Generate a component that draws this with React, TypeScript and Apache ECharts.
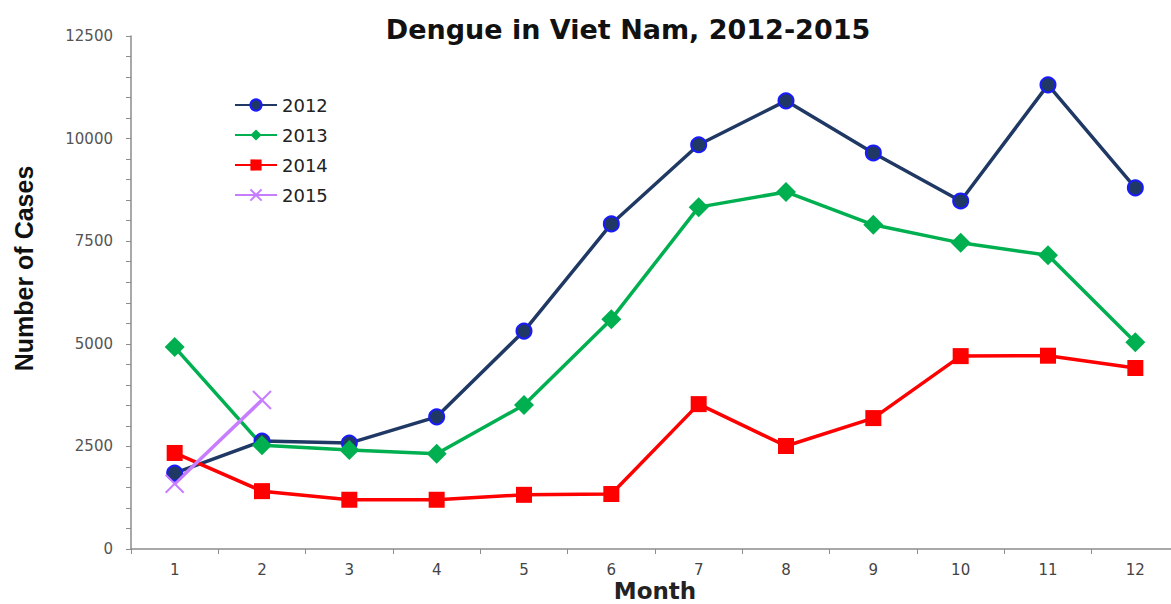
import React, { useEffect, useRef } from "react";
import * as echarts from "echarts";

const months = ["1", "2", "3", "4", "5", "6", "7", "8", "9", "10", "11", "12"];
const cases2012 = [1850, 2630, 2580, 3220, 5310, 7920, 9850, 10920, 9650, 8480, 11310, 8800];
const cases2013 = [4920, 2530, 2410, 2320, 3510, 5600, 8330, 8700, 7900, 7460, 7160, 5040];
const cases2014 = [2340, 1410, 1200, 1200, 1320, 1340, 3530, 2510, 3190, 4700, 4710, 4410];
const cases2015 = [1590, 3630];
const yTicks = { min: 0, max: 12500, interval: 2500 };

export default function App() {
  const ref = useRef<HTMLDivElement>(null);
  useEffect(() => {
    if (!ref.current) return;
    const chart = echarts.init(ref.current, null, { renderer: "svg" });
    const sans = "Liberation Sans, Arial, sans-serif";
    chart.setOption({
      animation: false,
      backgroundColor: "#ffffff",
      title: {
        text: "Dengue in Viet Nam, 2012-2015",
        left: 623,
        textAlign: "center",
        top: 11,
        textStyle: { fontFamily: "DejaVu Sans", fontWeight: "bold", fontSize: 27, color: "#111" },
      },
      legend: {
        orient: "vertical",
        left: 229,
        top: 91,
        itemGap: 12,
        itemWidth: 42,
        itemHeight: 14,
        textStyle: { fontFamily: "DejaVu Sans", fontSize: 18, color: "#222" },
        data: ["2012", "2013", "2014", "2015"],
      },
      grid: { left: 131, top: 36, bottom: 55, width: 1048, outerBoundsMode: "none", containLabel: false },
      xAxis: {
        type: "category",
        data: months,
        boundaryGap: true,
        name: "Month",
        nameLocation: "middle",
        nameGap: 30,
        nameMoveOverlap: false,
        nameTextStyle: { fontFamily: "DejaVu Sans", fontWeight: "bold", fontSize: 23, lineHeight: 23, color: "#222" },
        axisLine: { lineStyle: { color: "#8c8c8c", width: 1.5 } },
        axisTick: { show: true, length: 5, lineStyle: { color: "#8c8c8c" } },
        axisLabel: { fontFamily: "DejaVu Sans", fontSize: 15, lineHeight: 15, color: "#444", margin: 13 },
        splitLine: { show: false },
      },
      yAxis: {
        type: "value",
        min: yTicks.min,
        max: yTicks.max,
        interval: yTicks.interval,
        name: "Number of Cases",
        nameLocation: "middle",
        nameGap: 95,
        nameRotate: 90,
        nameMoveOverlap: false,
        nameTextStyle: { fontFamily: sans, fontWeight: "bold", fontSize: 25, color: "#111", padding: [0, 0, 0, 48] },
        axisLine: { show: true, lineStyle: { color: "#8c8c8c", width: 1.5 } },
        axisTick: { show: true, length: 5, lineStyle: { color: "#8c8c8c" } },
        minorTick: { show: true, splitNumber: 5, length: 5, lineStyle: { color: "#8c8c8c" } },
        axisLabel: {
          fontFamily: "DejaVu Sans",
          fontSize: 15,
          color: "#555",
          margin: 18,
          formatter: (v: number) => String(v),
        },
        splitLine: { show: false },
      },
      series: [
        {
          name: "2012",
          type: "line",
          data: cases2012,
          symbol: "circle",
          symbolSize: 15,
          lineStyle: { color: "#1f3864", width: 3.5 },
          itemStyle: { color: "#1f3864", borderColor: "#1a1aff", borderWidth: 2 },
        },
        {
          name: "2013",
          type: "line",
          data: cases2013,
          symbol: "diamond",
          symbolSize: 20,
          lineStyle: { color: "#00b050", width: 3.5 },
          itemStyle: { color: "#00b050" },
        },
        {
          name: "2014",
          type: "line",
          data: cases2014,
          symbol: "rect",
          symbolSize: 16,
          lineStyle: { color: "#ff0000", width: 3.5 },
          itemStyle: { color: "#ff0000" },
        },
        {
          name: "2015",
          type: "line",
          data: cases2015,
          symbol: "path://M0,0L20,20M20,0L0,20",
          symbolSize: 18,
          lineStyle: { color: "#c77dff", width: 3.5 },
          itemStyle: { color: "#c77dff", borderColor: "#c77dff", borderWidth: 2 },
        },
      ],
    });
    return () => chart.dispose();
  }, []);
  return <div ref={ref} style={{ position: "absolute", left: 0, top: 0, width: 1171, height: 604 }} />;
}
